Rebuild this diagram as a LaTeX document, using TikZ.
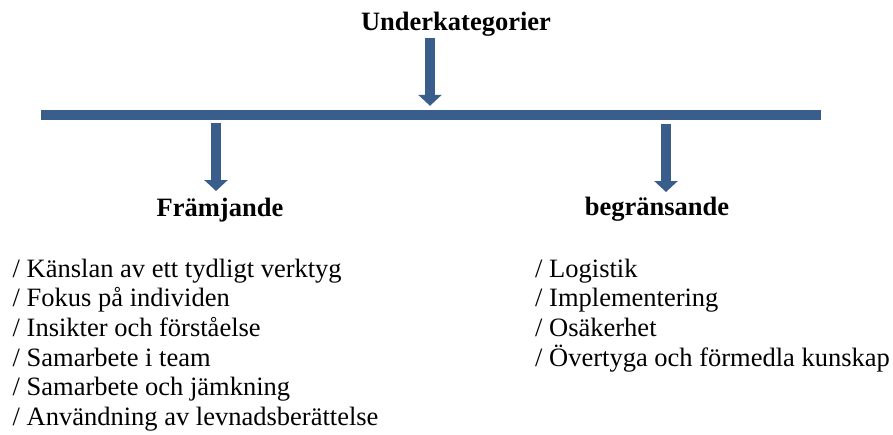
\documentclass[tikz,border=0pt]{standalone}
\usepackage{fontspec}
\setmainfont{Liberation Serif}
\usetikzlibrary{arrows.meta}
\definecolor{barblue}{RGB}{58,94,140}
\begin{document}
\begin{tikzpicture}[x=1pt,y=-1pt,
  txt/.style={inner sep=0pt,font=\fontsize{26.5}{29.5}\selectfont},
  head/.style={txt,font=\fontsize{26.5}{29.5}\selectfont\bfseries,anchor=base},
  item/.style={txt,anchor=base west},
  blk/.style={draw=barblue,line width=10pt,-{Triangle[width=23pt,length=11pt]},color=barblue},
  barstyle/.style={fill=barblue,inner sep=0pt,minimum width=780pt,minimum height=10pt}]
\useasboundingbox (0,0) rectangle (893,434);
\node[head] (title) at (456,30) {Underkategorier};
\node[barstyle] (bar) at (431,115) {};
\node[head] (fram) at (220,216) {Främjande};
\node[head] (begr) at (657,215) {begränsande};
\coordinate (t0) at (430,38);
\coordinate (la) at (216,123);
\coordinate (lb) at (216,191);
\coordinate (ra) at (666,124);
\coordinate (rb) at (666,192);
\draw[blk] (t0) -- (t0 |- bar.north) [shorten >=4pt];
\draw[blk] (la) -- (lb);
\draw[blk] (ra) -- (rb);
\foreach \t [count=\i] in {Känslan av ett tydligt verktyg,Fokus på individen,Insikter och förståelse,Samarbete i team,Samarbete och jämkning,Användning av levnadsberättelse}
  \node[item] (l\i) at (12.5,{277+29.7*(\i-1)}) {/ \t};
\foreach \t [count=\i] in {Logistik,Implementering,Osäkerhet,Övertyga och förmedla kunskap}
  \node[item] (r\i) at (535,{277+29.7*(\i-1)}) {/ \t};
\end{tikzpicture}
\end{document}
